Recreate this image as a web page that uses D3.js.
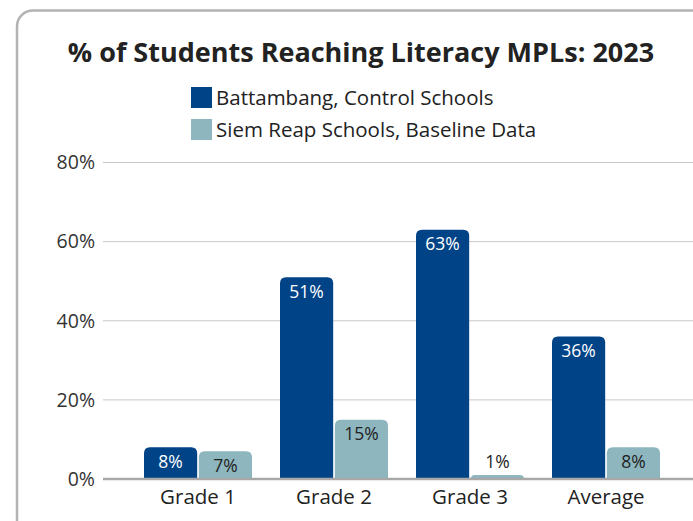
<!DOCTYPE html>
<html><head><meta charset="utf-8">
<script src="https://cdn.jsdelivr.net/npm/d3@7"></script>
<style>body{margin:0;background:#fff}svg{display:block}text{font-family:"Open Sans",sans-serif}</style>
</head><body><svg id="c" width="693" height="521"></svg>
<script>
const categories = ["Grade 1","Grade 2","Grade 3","Average"];
const seriesNames = ["Battambang, Control Schools","Siem Reap Schools, Baseline Data"];
const battambang = [8,51,63,36];
const siemReap = [7,15,1,8];
const yTicks = [0,20,40,60,80];
const colors = ["#004386","#8db6bf"];
const title = "% of Students Reaching Literacy MPLs: 2023";

const svg = d3.select("#c");
// frame
svg.append("rect").attr("x",17).attr("y",10.5).attr("width",720).attr("height",560).attr("rx",16)
  .attr("fill","none").attr("stroke","#b3b3b3").attr("stroke-width",2.5);

svg.append("text").attr("x",361).attr("y",62).attr("text-anchor","middle")
  .attr("font-size",27).attr("font-weight","bold").attr("fill","#222").text(title);

// legend
const leg = svg.append("g");
seriesNames.forEach((s,i)=>{
  const yy = 87 + i*32;
  leg.append("rect").attr("x",191).attr("y",yy).attr("width",21).attr("height",21).attr("fill",colors[i]);
  leg.append("text").attr("x",216).attr("y",yy+17.5).attr("font-size",20.5).attr("fill","#222").text(s);
});

const y = d3.scaleLinear().domain([0,80]).range([479,162.5]);
const x0 = d3.scaleBand().domain(categories).range([130,674]).paddingInner(0.206).paddingOuter(0.103);
const x1 = d3.scaleBand().domain([0,1]).range([0,x0.bandwidth()]).paddingInner(0.03);

// y axis labels
const yAxis = d3.axisLeft(y).tickValues(yTicks).tickFormat(d=>d+"%").tickSize(0).tickPadding(8);
const gy = svg.append("g").attr("transform","translate(103,0)").call(yAxis);
gy.select(".domain").remove();
gy.selectAll("text").attr("font-size",19.5).attr("fill","#333").attr("font-family","Open Sans");
// grid
svg.append("g").selectAll("line").data(yTicks.filter(d=>d>0)).join("line")
  .attr("x1",103).attr("x2",693).attr("y1",d=>y(d)).attr("y2",d=>y(d))
  .attr("stroke","#c8c8c8").attr("stroke-width",1);

const data = categories.map((c,i)=>({c, vals:[battambang[i], siemReap[i]]}));
function topRounded(x,yt,w,h,r){
  r = Math.min(r,h,w/2);
  return `M${x},${yt+h}V${yt+r}Q${x},${yt} ${x+r},${yt}H${x+w-r}Q${x+w},${yt} ${x+w},${yt+r}V${yt+h}Z`;
}
const g = svg.append("g");
data.forEach(d=>{
  d.vals.forEach((v,j)=>{
    const bx = x0(d.c)+x1(j), bw = x1.bandwidth(), yt = y(v), h = y(0)-yt;
    g.append("path").attr("d",topRounded(bx,yt,bw,h,6)).attr("fill",colors[j]);
    const inside = h > 22;
    g.append("text").attr("x",bx+bw/2).attr("y",inside? yt+20.5 : yt-7)
      .attr("text-anchor","middle").attr("font-size",17.5)
      .attr("fill", inside && j===0 ? "#fff" : "#222").text(v+"%");
  });
});

// baseline
svg.append("line").attr("x1",103).attr("x2",693).attr("y1",y(0)).attr("y2",y(0))
  .attr("stroke","#a8a8a8").attr("stroke-width",2.5);

// x axis
const xAxis = d3.axisBottom(x0).tickSize(0).tickPadding(10);
const gx = svg.append("g").attr("transform",`translate(0,${y(0)})`).call(xAxis);
gx.select(".domain").remove();
gx.selectAll("text").attr("font-size",20.5).attr("fill","#222").attr("font-family","Open Sans");
</script></body></html>
